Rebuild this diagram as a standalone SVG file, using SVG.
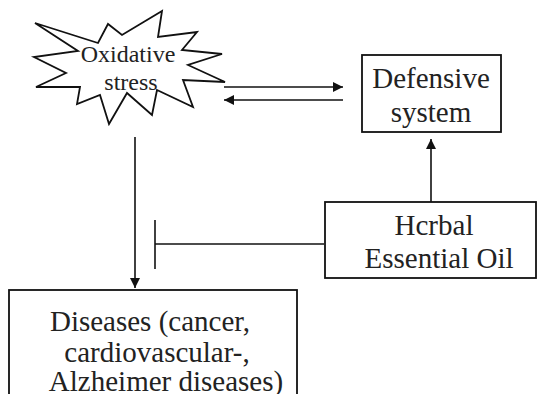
<svg xmlns="http://www.w3.org/2000/svg" width="537" height="394" viewBox="0 0 537 394">
<defs>
<style>
text{font-family:'Liberation Serif','DejaVu Serif','Times New Roman',serif;fill:#222;}
.box{fill:#fff;stroke:#111;stroke-width:1.8;}
.ln{stroke:#111;stroke-width:1.6;fill:none;}
</style>
<marker id="ah" viewBox="0 0 10 10" refX="10" refY="5" markerWidth="10" markerHeight="10" markerUnits="userSpaceOnUse" orient="auto">
<path d="M0,0 L10,5 L0,10 Z" fill="#111"/>
</marker>
</defs>
<rect width="537" height="394" fill="#fff"/>
<g id="connectors">
<line class="ln" x1="224" y1="87" x2="343" y2="87" marker-end="url(#ah)" stroke-width="2.2"/>
<line class="ln" x1="343" y1="100" x2="224" y2="100" marker-end="url(#ah)" stroke-width="2.2"/>
<line class="ln" x1="135" y1="137" x2="135" y2="288" marker-end="url(#ah)"/>
<line class="ln" x1="431" y1="202" x2="431" y2="139" marker-end="url(#ah)"/>
<line class="ln" x1="324" y1="244" x2="155" y2="244"/>
<line class="ln" x1="155" y1="220" x2="155" y2="269"/>
</g>
<g id="oxidative-stress">
<polygon points="35,23 98,43 108,24 122,35 162,11 158,37 197,32 182,50 222,54 188,65 225,82 183,80 193,107 157,90 152,115 127,93 109,124 100,95 77,104 80,87 36,87 66,73 34,57 78,51" fill="#fff" stroke="#111" stroke-width="1.8" stroke-linejoin="miter"/>
<text x="128" y="62" font-size="24" text-anchor="middle" font-family="Liberation Serif">Oxidative</text>
<text x="131" y="90" font-size="24" text-anchor="middle" font-family="Liberation Serif">stress</text>
</g>
<g id="defensive-system">
<rect class="box" x="362" y="55" width="139" height="77"/>
<text x="431" y="88" font-size="29" text-anchor="middle" font-family="Liberation Serif">Defensive</text>
<text x="431" y="122" font-size="29" text-anchor="middle" font-family="Liberation Serif">system</text>
</g>
<g id="herbal-essential-oil">
<rect class="box" x="325" y="202" width="211" height="76"/>
<text x="434" y="235" font-size="29" text-anchor="middle" font-family="Liberation Serif">Hcrbal</text>
<text x="439" y="268" font-size="29" text-anchor="middle" font-family="Liberation Serif">Essential Oil</text>
</g>
<g id="diseases">
<rect class="box" x="9" y="290" width="288" height="110"/>
<text x="150" y="331" font-size="29" text-anchor="middle" font-family="Liberation Serif">Diseases (cancer,</text>
<text x="157" y="362" font-size="29" text-anchor="middle" font-family="Liberation Serif">cardiovascular-,</text>
<text x="166" y="391" font-size="29" text-anchor="middle" font-family="Liberation Serif">Alzheimer diseases)</text>
</g>
</svg>
